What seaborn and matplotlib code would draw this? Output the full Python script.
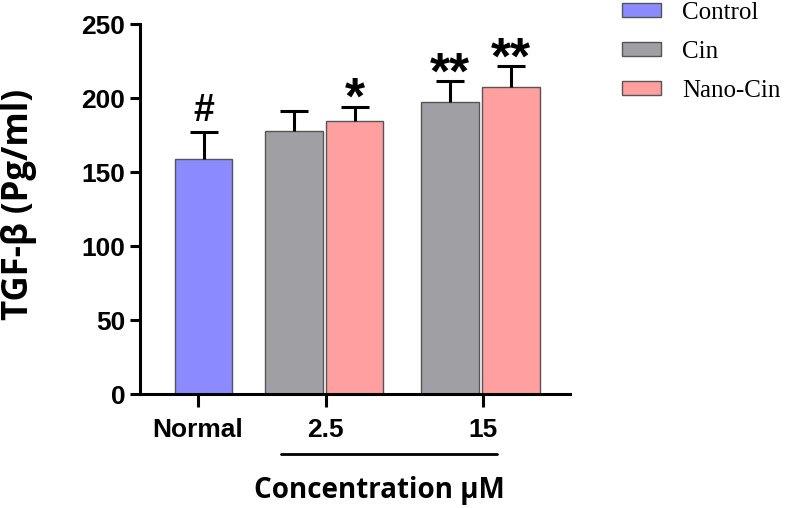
import matplotlib
matplotlib.use("Agg")
import matplotlib.pyplot as plt
import matplotlib.transforms as mtransforms
import seaborn as sns
import pandas as pd

# data
groups = ["Normal", "2.5", "2.5", "15", "15"]
treatments = ["Control", "Cin", "Nano-Cin", "Cin", "Nano-Cin"]
means = [159, 178, 184.5, 197.5, 208]
sd = [18, 13.5, 10, 14, 14]
marks = ["#", "", "*", "**", "**"]
tick_labels = ["Normal", "2.5", "15"]
hue_order = ["Control", "Cin", "Nano-Cin"]

# layout along the x axis (GraphPad style spacing)
bar_x = [203.5, 294, 354.5, 450, 511]
tick_x = [197.5, 325.5, 482.5]

df = pd.DataFrame({"x": bar_x, "group": groups, "treatment": treatments,
                   "value": means, "sd": sd})

palette = {"Control": "#8B8BFF", "Cin": "#A09FA4", "Nano-Cin": "#FF9F9F"}

sns.set_style("ticks")
plt.rcParams["font.family"] = ["Liberation Sans", "DejaVu Sans"]
plt.rcParams["text.color"] = "black"
plt.rcParams["axes.labelcolor"] = "black"
plt.rcParams["xtick.color"] = "black"
plt.rcParams["ytick.color"] = "black"

fig = plt.figure(figsize=(7.86, 5.08), dpi=100)
ax = fig.add_axes([140 / 786, 114 / 508, 430 / 786, 369.5 / 508])

sns.barplot(data=df, x="x", y="value", hue="treatment", hue_order=hue_order,
            palette=palette, native_scale=True, width=0.95, dodge=False,
            edgecolor="#555555", linewidth=1, saturation=1, errorbar=None, ax=ax)

# error bars (upper only, like the original)
cap = 14
ax.vlines(df["x"], df["value"], df["value"] + df["sd"], color="black", lw=2.2, zorder=3)
ax.hlines(df["value"] + df["sd"], df["x"] - cap, df["x"] + cap, color="black", lw=2.2, zorder=3)

for x, v, s, m in zip(bar_x, means, sd, marks):
    if not m:
        continue
    if m == "#":
        ax.text(x, v + s + 8, m, ha="center", va="baseline", fontsize=27,
                fontweight="bold", family="Liberation Sans")
    else:
        ax.text(x, v + s - 5, m, ha="center", va="baseline", fontsize=37,
                fontweight="bold", family="Liberation Sans")

ax.set_xlim(140, 570)
ax.set_ylim(0, 250)
ax.set_yticks([0, 50, 100, 150, 200, 250])
ax.set_xticks(tick_x)
ax.set_xticklabels(tick_labels)
sns.despine(ax=ax)
for sp in ["left", "bottom"]:
    ax.spines[sp].set_linewidth(2.2)
    ax.spines[sp].set_color("black")
ax.tick_params(axis="x", length=9.4, width=2.2, pad=8, labelsize=19)
ax.tick_params(axis="y", length=7, width=2.2, pad=3.5, labelsize=19)
for lab in ax.get_xticklabels() + ax.get_yticklabels():
    lab.set_fontweight("bold")

ax.set_ylabel("TGF-β (Pg/ml)", fontsize=25, fontweight="bold", family="Open Sans")
ax.yaxis.set_label_coords(-0.281, 0.514)
ax.yaxis.label.set_va("center")
ax.set_xlabel("Concentration μM", fontsize=20, fontweight="bold", family="Open Sans")
ax.xaxis.set_label_coords(0.556, -0.26)
ax.xaxis.label.set_va("center")

# bracket under the concentration groups
trans = mtransforms.blended_transform_factory(ax.transData, ax.transAxes)
ax.plot([281, 497], [-0.162, -0.162], color="black", lw=2, transform=trans, clip_on=False)

sns.move_legend(ax, loc="upper left", bbox_to_anchor=(622 / 786, 0.997),
                bbox_transform=fig.transFigure, frameon=False, title=None,
                prop={"family": "Liberation Serif", "size": 18},
                handlelength=1.56, handleheight=0.5, handletextpad=0.85,
                labelspacing=0.68, borderpad=0, borderaxespad=0)

fig.savefig("out.png", dpi=100)
